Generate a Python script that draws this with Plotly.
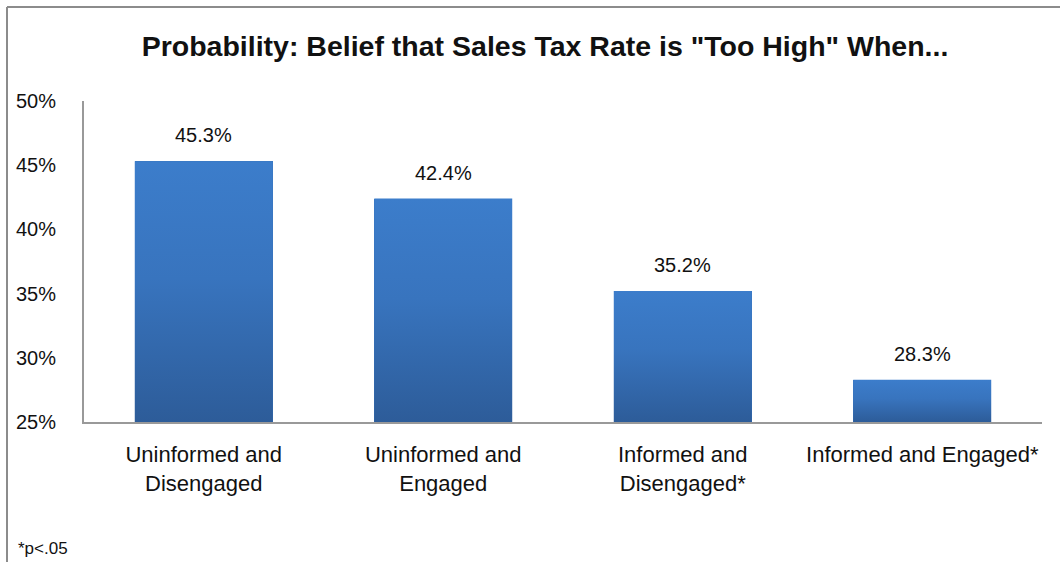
import plotly.graph_objects as go

# Chart data
categories = ["Uninformed and<br>Disengaged", "Uninformed and<br>Engaged",
              "Informed and<br>Disengaged*", "Informed and Engaged*"]
probabilities = [45.3, 42.4, 35.2, 28.3]
y_ticks = [25, 30, 35, 40, 45, 50]
y_tick_labels = ["25%", "30%", "35%", "40%", "45%", "50%"]

title_text = 'Probability: Belief that Sales Tax Rate is "Too High" When...'
footnote_text = "*p<.05"

FONT = "Liberation Sans, Arial, sans-serif"
BAR_WIDTH = 0.576
AXIS_MIN = 25
TOP_COLOR = "#3c7dcb"
BOTTOM_COLOR = "#2d5c99"

positions = list(range(len(categories)))

fig = go.Figure()

# Base bars
fig.add_trace(go.Bar(
    x=positions,
    y=[v - AXIS_MIN for v in probabilities],
    base=AXIS_MIN,
    width=BAR_WIDTH,
    marker=dict(color="#3570b8", line=dict(width=0)),
    hoverinfo="skip",
    showlegend=False,
))

# Vertical gradient overlay on each bar
for pos, val in zip(positions, probabilities):
    x0, x1 = pos - BAR_WIDTH / 2, pos + BAR_WIDTH / 2
    fig.add_trace(go.Scatter(
        x=[x0, x1, x1, x0, x0],
        y=[AXIS_MIN, AXIS_MIN, val, val, AXIS_MIN],
        mode="lines",
        line=dict(width=0),
        fill="toself",
        fillgradient=dict(type="vertical",
                          colorscale=[[0, BOTTOM_COLOR], [0.55, "#3874be"], [1, TOP_COLOR]]),
        hoverinfo="skip",
        showlegend=False,
    ))

L, R, T, B = 84, 18, 101, 140
W, H = 1060, 562
pw, ph = W - L - R, H - T - B


def px_x(px):
    return (px - L) / pw


def px_y(py):
    return (H - B - py) / ph


border_color = "#8c8c8c"
shapes = [
    dict(type="line", xref="paper", yref="paper",
         x0=px_x(7), x1=px_x(W + 2), y0=px_y(7), y1=px_y(7),
         line=dict(color=border_color, width=2)),
    dict(type="line", xref="paper", yref="paper",
         x0=px_x(7), x1=px_x(7), y0=px_y(7), y1=px_y(H + 2),
         line=dict(color=border_color, width=2)),
]

# Value labels above the bars
annotations = [
    dict(x=pos, y=val, xref="x", yref="y", text=f"{val:.1f}%",
         showarrow=False, yanchor="middle", yshift=26,
         font=dict(family=FONT, size=20, color="#111111"))
    for pos, val in zip(positions, probabilities)
]
annotations.append(dict(text=footnote_text, xref="paper", yref="paper",
                        x=px_x(16), y=px_y(548), xanchor="left", yanchor="middle",
                        showarrow=False, font=dict(family=FONT, size=17, color="#111111")))

fig.update_layout(
    width=W, height=H,
    margin=dict(l=L, r=R, t=T, b=B),
    paper_bgcolor="white",
    plot_bgcolor="white",
    font=dict(family=FONT, color="#111111"),
    title=dict(text=f"<b>{title_text}</b>", x=545 / W, xanchor="center",
               y=1 - 46 / H, yanchor="middle",
               font=dict(family=FONT, size=28.5, color="#111111")),
    shapes=shapes,
    annotations=annotations,
    bargap=0,
)

fig.update_xaxes(
    range=[-0.5, len(categories) - 0.5],
    tickvals=positions, ticktext=categories,
    tickfont=dict(family=FONT, size=22, color="#111111"),
    showline=True, linecolor="#999999", linewidth=2,
    showgrid=False, zeroline=False, ticks="",
    ticklabelstandoff=12, automargin=False,
)
fig.update_yaxes(
    range=[25, 50],
    tickvals=y_ticks, ticktext=y_tick_labels,
    tickfont=dict(family=FONT, size=20, color="#111111"),
    showline=True, linecolor="#999999", linewidth=2,
    showgrid=False, zeroline=False, ticks="",
    ticklabelstandoff=22, automargin=False,
)

fig.write_html("out.html")
